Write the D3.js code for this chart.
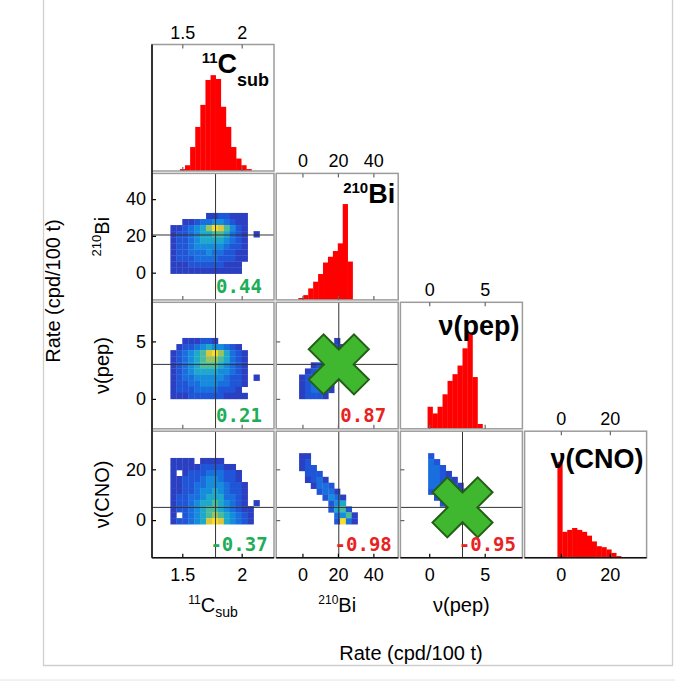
<!DOCTYPE html>
<html>
<head>
<meta charset="utf-8">
<script src="https://cdn.jsdelivr.net/npm/d3@7"></script>
<style>
  html, body { margin: 0; padding: 0; background: #fff; }
  svg { display: block; }
</style>
</head>
<body>
<script>
// ---- fitted species, in row / column order of the corner plot ----
const variableKeys = ["C11", "Bi", "pep", "CNO"];
const variableDomains = [[1.245, 2.272], [-14.8, 54], [-2.6, 8.4], [-14.8, 35]];
const c11Ticks = [1.5, 2];
const biTicks = [0, 20, 40];
const pepTicks = [0, 5];
const cnoTicks = [0, 20];
const bestFit = [1.78, 20.5, 3.0, 5.0];

// ---- marginal distributions: [first bin edge, bin width] and heights (tallest = 100) ----
const c11HistBins = [1.48, 0.043];
const c11HistCounts = [2, 6, 25, 46, 69, 95, 100, 96, 67, 46, 25, 13, 6, 2];
const biHistBins = [-2.3, 2.78];
const biHistCounts = [2, 5, 12, 19, 27, 39, 45, 51, 59, 100, 40];
const pepHistBins = [-0.15, 0.45];
const pepHistCounts = [23, 16, 23, 36, 50, 57, 66, 84, 100, 54, 5];
const cnoHistBins = [-1.4, 2.0];
const cnoHistCounts = [100, 27, 29, 31, 29, 27, 23, 17, 12, 11, 8.6, 5, 1.7];

// ---- joint distributions: [x start, x step, y start, y step]; rows top to bottom,
//      one digit per cell = density level 1..9, "." = empty ----
const biC11Bins = [1.40, 0.05, -0.5, 3.3];
const biC11Grid = [
  "......1122111..",
  "..11233443211..",
  "1123457986421..",
  "1223455665321.1",
  "1223455554321..",
  "1223444443221..",
  "1223334332211..",
  "1222333322211..",
  "111222222111...",
  "111111111111..."
];
const pepC11Bins = [1.40, 0.05, 0, 0.53];
const pepC11Grid = [
  "..111221.......",
  ".12234544321...",
  "1234568975321..",
  "1234567765321..",
  "1234566654321..",
  "1234555544321..",
  "1233444443221.1",
  "1223344433221..",
  "122233332221...",
  "1112222221111.."
];
const cnoC11Bins = [1.40, 0.05, -1.6, 2.37];
const cnoC11Grid = [
  "1111.1111......",
  "11111222211....",
  "1.1222333221...",
  "112223443221...",
  "1122334443221..",
  "1122344543221..",
  "1223345553321..",
  "1223455654321.1",
  "12234566543211.",
  "1.234567654321.",
  "12234589854321."
];
const pepBiBins = [-1.9, 3.3, 0, 0.53];
const pepBiGrid = [
  "......1.",
  ".....121",
  ".....231",
  "....1331",
  "..12332.",
  ".123431.",
  "1234421.",
  "123431..",
  "123321..",
  "12221..."
];
const cnoBiBins = [-1.9, 3.3, -1.6, 2.33];
const cnoBiGrid = [
  "11........",
  "12........",
  "122.......",
  ".222......",
  ".1231.....",
  "..1332....",
  "...2331...",
  "....2431..",
  ".....245..",
  ".....2562.",
  "......3461",
  "......2931"
];
const cnoPepBins = [-0.1, 0.53, -1.6, 2.33];
const cnoPepGrid = [
  "2.......",
  "32......",
  "332.....",
  "3321....",
  "33221...",
  "333221..",
  "2333321.",
  ".233332.",
  "..23332.",
  "...2333.",
  "...1232.",
  "....231."
];

// ---- correlation coefficients per joint panel [row, col] ----
const corrPairs = [[1, 0], [2, 0], [3, 0], [2, 1], [3, 1], [3, 2]];
const corrValues = [0.44, 0.21, -0.37, 0.87, -0.98, -0.95];
// panels whose pair is not used further
const crossedPairs = [[2, 1], [3, 2]];

// ---- text ----
const diagTitles = [
  [["11", "sup"], ["C", "base"], ["sub", "sub"]],
  [["210", "sup"], ["Bi", "base"]],
  [["ν(pep)", "base"]],
  [["ν(CNO)", "base"]]
];
// axis names: bottom row carries the first three, left column the last three
const axisNames = [
  [["11", "sup"], ["C", "base"], ["sub", "sub"]],
  [["210", "sup"], ["Bi", "base"]],
  [["ν(pep)", "base"]],
  [["ν(CNO)", "base"]]
];
const rateLabel = "Rate (cpd/100 t)";

// ================= drawing =================
const W = 675, H = 681;
const L = { left: 152, top: 44.5, w: 122, h: 126.5, gx: 2.2, gy: 2.4 };
const colX = i => L.left + i * (L.w + L.gx);
const rowY = i => L.top + i * (L.h + L.gy);

const xs = variableDomains.map((d, i) => d3.scaleLinear().domain(d).range([colX(i), colX(i) + L.w]));
const ys = variableDomains.map((d, i) => d3.scaleLinear().domain(d).range([rowY(i) + L.h, rowY(i)]));
const tickSets = [c11Ticks, biTicks, pepTicks, cnoTicks];

const heatPalette = ["#2b3fc2", "#1f55d6", "#1a6fdf", "#168cdc", "#1ea8c9",
                     "#4cbb9c", "#98c460", "#dcc73c", "#f8de26"];
const heat = d3.scaleLinear().domain(d3.range(1, 10)).range(heatPalette);

const FONT = "'Liberation Sans', Arial, Helvetica, sans-serif";
const svg = d3.select("body").append("svg")
  .attr("width", W).attr("height", H)
  .attr("font-family", FONT);

// page frame
svg.append("path")
  .attr("d", "M43.5,0V665.5H672.5V0")
  .attr("fill", "none").attr("stroke", "#cfcfcf").attr("stroke-width", 1.3);
svg.append("line")
  .attr("x1", 0).attr("x2", W).attr("y1", 680).attr("y2", 680)
  .attr("stroke", "#e4e4e4").attr("stroke-width", 1);

// ---- joint density panels ----
const heatPanels = [
  { row: 1, col: 0, bins: biC11Bins, grid: biC11Grid },
  { row: 2, col: 0, bins: pepC11Bins, grid: pepC11Grid },
  { row: 3, col: 0, bins: cnoC11Bins, grid: cnoC11Grid },
  { row: 2, col: 1, bins: pepBiBins, grid: pepBiGrid },
  { row: 3, col: 1, bins: cnoBiBins, grid: cnoBiGrid },
  { row: 3, col: 2, bins: cnoPepBins, grid: cnoPepGrid }
];

heatPanels.forEach(p => {
  const x = xs[p.col], y = ys[p.row];
  const nRows = p.grid.length;
  const cells = [];
  p.grid.forEach((line, k) => line.split("").forEach((ch, i) => {
    if (ch !== ".") cells.push({ i, j: nRows - 1 - k, v: +ch });
  }));
  const [x0, dx, y0, dy] = p.bins;
  svg.append("g").selectAll("rect").data(cells).join("rect")
    .attr("x", d => x(x0 + d.i * dx))
    .attr("width", d => x(x0 + (d.i + 1) * dx) - x(x0 + d.i * dx) + 0.3)
    .attr("y", d => y(y0 + (d.j + 1) * dy))
    .attr("height", d => y(y0 + d.j * dy) - y(y0 + (d.j + 1) * dy) + 0.3)
    .attr("fill", d => heat(d.v));

  // best-fit crosshair
  const g = svg.append("g").attr("stroke", "#333").attr("stroke-width", 1);
  g.append("line")
    .attr("x1", x(bestFit[p.col])).attr("x2", x(bestFit[p.col]))
    .attr("y1", rowY(p.row)).attr("y2", rowY(p.row) + L.h);
  g.append("line")
    .attr("x1", colX(p.col)).attr("x2", colX(p.col) + L.w)
    .attr("y1", y(bestFit[p.row])).attr("y2", y(bestFit[p.row]));
});

// ---- marginal histograms on the diagonal ----
const histData = [
  [c11HistBins, c11HistCounts],
  [biHistBins, biHistCounts],
  [pepHistBins, pepHistCounts],
  [cnoHistBins, cnoHistCounts]
];
histData.forEach(([bins, counts], i) => {
  const x = xs[i];
  const y = d3.scaleLinear().domain([0, 132]).range([rowY(i) + L.h, rowY(i)]);
  svg.append("g").selectAll("rect").data(counts).join("rect")
    .attr("x", (d, k) => x(bins[0] + k * bins[1]))
    .attr("width", (d, k) => x(bins[0] + (k + 1) * bins[1]) - x(bins[0] + k * bins[1]) + 0.3)
    .attr("y", d => y(d))
    .attr("height", d => y(0) - y(d))
    .attr("fill", "#ff0000");
});

// ---- panel frames and ticks ----
const panels = [];
for (let r = 0; r < 4; r++) for (let c = 0; c <= r; c++) panels.push({ r, c });

panels.forEach(({ r, c }) => {
  svg.append("rect")
    .attr("x", colX(c)).attr("y", rowY(r))
    .attr("width", L.w).attr("height", L.h)
    .attr("fill", "none").attr("stroke", "#9c9c9c").attr("stroke-width", 1.5);
});

function styleAxis(g, color, size) {
  g.select(".domain").remove();
  g.attr("font-family", FONT).attr("font-size", size || 18);
  g.selectAll(".tick line").attr("stroke", color).attr("stroke-width", 1.2);
  g.selectAll(".tick text").attr("fill", "#000");
}

panels.forEach(({ r, c }) => {
  const labelledBottom = r === 3;
  const labelledLeft = c === 0 && r > 0;
  // bottom ticks
  const gb = svg.append("g").attr("transform", `translate(0,${rowY(r) + L.h})`)
    .call(d3.axisBottom(xs[c]).tickValues(tickSets[c]).tickSize(-4).tickPadding(10.5)
      .tickFormat(labelledBottom ? (d => String(d)) : ""));
  styleAxis(gb, labelledBottom ? "#000" : "#666");
  if (r === c) {
    // labelled top axis of the marginal
    const gt = svg.append("g").attr("transform", `translate(0,${rowY(r)})`)
      .call(d3.axisTop(xs[c]).tickValues(tickSets[c]).tickSize(-4).tickPadding(6)
        .tickFormat(d => String(d)));
    styleAxis(gt, "#666");
  } else {
    const gl = svg.append("g").attr("transform", `translate(${colX(c)},0)`)
      .call(d3.axisLeft(ys[r]).tickValues(tickSets[r]).tickSize(-4).tickPadding(6)
        .tickFormat(labelledLeft ? (d => String(d)) : ""));
    styleAxis(gl, labelledLeft ? "#000" : "#666");
  }
});

// dark outer axes
svg.append("line")
  .attr("x1", colX(0)).attr("x2", colX(0))
  .attr("y1", rowY(0)).attr("y2", rowY(3) + L.h)
  .attr("stroke", "#111").attr("stroke-width", 1.6);
for (let c = 0; c < 4; c++) {
  svg.append("line")
    .attr("x1", colX(c)).attr("x2", colX(c) + L.w)
    .attr("y1", rowY(3) + L.h).attr("y2", rowY(3) + L.h)
    .attr("stroke", "#111").attr("stroke-width", 1.6);
}

// ---- crossed-out pairs ----
const armHalf = 10.5, armLen = 32;
const plus = [[-armHalf, -armLen], [armHalf, -armLen], [armHalf, -armHalf], [armLen, -armHalf],
              [armLen, armHalf], [armHalf, armHalf], [armHalf, armLen], [-armHalf, armLen],
              [-armHalf, armHalf], [-armLen, armHalf], [-armLen, -armHalf], [-armHalf, -armHalf]];
crossedPairs.forEach(([r, c]) => {
  svg.append("polygon")
    .attr("points", plus.map(p => p.join(",")).join(" "))
    .attr("transform", `translate(${xs[c](bestFit[c])},${ys[r](bestFit[r])}) rotate(45)`)
    .attr("fill", "#3fb82f").attr("stroke", "#245f17").attr("stroke-width", 2)
    .attr("stroke-linejoin", "miter");
});

// ---- correlation coefficients ----
corrPairs.forEach(([r, c], k) => {
  const v = corrValues[k];
  svg.append("text")
    .attr("x", colX(c) + 87).attr("y", rowY(r) + L.h - 7)
    .attr("text-anchor", "middle")
    .attr("font-family", "'DejaVu Sans Mono', monospace")
    .attr("font-weight", "bold").attr("font-size", 19)
    .attr("fill", Math.abs(v) > 0.8 ? "#e8231f" : "#20ad58")
    .text(v.toFixed(2));
});

// ---- rich text helper (super/subscripts) ----
function richText(sel, parts, sz) {
  let shift = 0;
  parts.forEach(([t, role]) => {
    const target = role === "sup" ? -sz.supShift : role === "sub" ? sz.subShift : 0;
    sel.append("tspan").attr("font-size", sz[role]).attr("dy", target - shift).text(t);
    shift = target;
  });
}

// marginal titles
const titleBaselines = [28.8, 30, 33, 36.5];
const titleInsets = [5, 3, 3, 3];
diagTitles.forEach((parts, i) => {
  const t = svg.append("text")
    .attr("x", colX(i) + L.w - titleInsets[i]).attr("y", rowY(i) + titleBaselines[i])
    .attr("text-anchor", "end").attr("font-weight", "bold");
  richText(t, parts, { base: 27, sup: 15, sub: 18, supShift: 10, subShift: 13 });
});

// axis names below the bottom row (the last column has none)
axisNames.slice(0, 3).forEach((parts, i) => {
  const t = svg.append("text")
    .attr("x", colX(i) + L.w / 2).attr("y", 611.5)
    .attr("text-anchor", "middle");
  richText(t, parts, { base: 20, sup: 12, sub: 14, supShift: 8, subShift: 5 });
});

// axis names beside the left column
axisNames.slice(1).forEach((parts, k) => {
  const r = k + 1;
  const t = svg.append("text")
    .attr("transform", `translate(109,${rowY(r) + L.h / 2}) rotate(-90)`)
    .attr("text-anchor", "middle");
  richText(t, parts, { base: 20, sup: 13, sub: 14, supShift: 8, subShift: 5 });
});

// shared unit labels
svg.append("text")
  .attr("x", 411).attr("y", 660)
  .attr("text-anchor", "middle").attr("font-size", 20)
  .text(rateLabel);
svg.append("text")
  .attr("transform", "translate(59.5,291) rotate(-90)")
  .attr("text-anchor", "middle").attr("font-size", 20)
  .text(rateLabel);
</script>
</body>
</html>
